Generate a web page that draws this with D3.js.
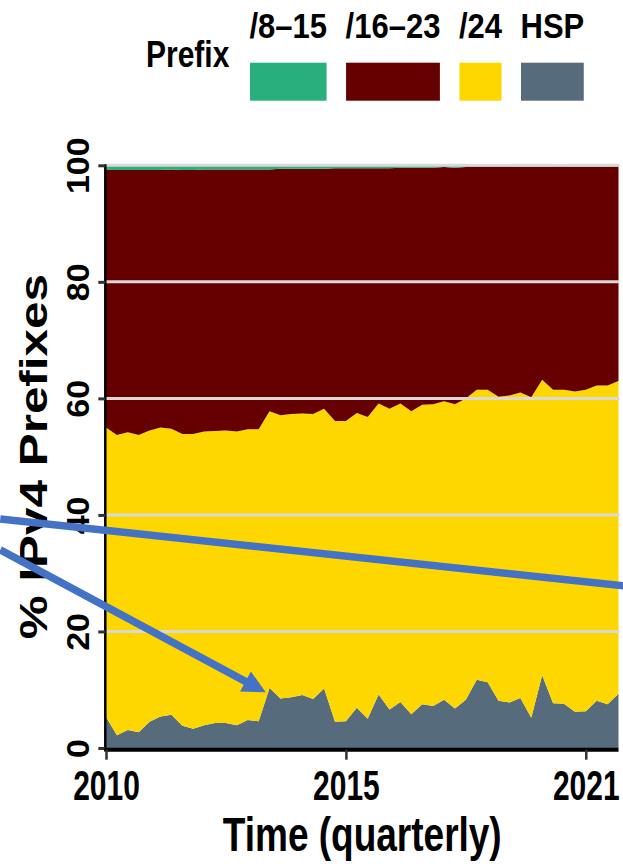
<!DOCTYPE html>
<html><head><meta charset="utf-8">
<script src="https://cdn.jsdelivr.net/npm/d3@7"></script>
<style>
html,body{margin:0;padding:0;background:#fff;}
svg{display:block;}
text{font-family:"Liberation Sans",Arial,Helvetica,sans-serif;font-weight:bold;fill:#000;}
</style></head><body>
<svg id="chart" width="623" height="864"></svg>
<script>
// ---------------- data ----------------
const quarters = [
 "2010Q1","2010Q2","2010Q3","2010Q4","2011Q1","2011Q2","2011Q3","2011Q4",
 "2012Q1","2012Q2","2012Q3","2012Q4","2013Q1","2013Q2","2013Q3","2013Q4",
 "2014Q1","2014Q2","2014Q3","2014Q4","2015Q1","2015Q2","2015Q3","2015Q4",
 "2016Q1","2016Q2","2016Q3","2016Q4","2017Q1","2017Q2","2017Q3","2017Q4",
 "2018Q1","2018Q2","2018Q3","2018Q4","2019Q1","2019Q2","2019Q3","2019Q4",
 "2020Q1","2020Q2","2020Q3","2020Q4","2021Q1","2021Q2","2021Q3","2021Q4"];
const hsp = [5.3,2.2,3.1,2.7,4.5,5.4,5.7,3.8,3.3,3.9,4.3,4.3,3.9,4.8,4.6,10.3,
 8.5,8.7,9.1,8.4,10.2,4.5,4.6,6.9,5.0,9.2,6.6,7.9,5.8,7.5,7.2,8.3,
 6.8,8.3,11.7,11.3,8.1,7.8,8.6,5.2,12.5,7.7,7.6,6.2,6.3,8.1,7.5,9.3];
const p24 = [49.7,51.5,51.1,51.0,50.0,49.6,49.1,50.1,50.6,50.4,50.1,50.2,50.4,49.9,50.1,47.5,
 48.6,48.6,48.3,48.9,48.0,51.6,51.5,50.6,51.8,49.9,51.6,51.2,52.0,51.4,51.8,51.2,
 52.2,51.7,49.8,50.2,52.2,52.7,52.4,55.0,50.7,53.8,53.9,55.0,55.2,54.1,54.7,53.7];
const p16_23 = [44.2,45.5,45.0,45.5,44.7,44.2,44.5,45.3,45.3,45.0,44.9,44.8,45.0,44.6,44.6,41.5,
 42.3,42.1,42.0,42.1,41.2,43.4,43.4,42.0,42.7,40.4,41.3,40.5,41.8,40.7,40.6,40.2,
 40.6,39.7,38.2,38.2,39.4,39.2,38.8,39.5,36.6,38.2,38.2,38.6,38.3,37.6,37.6,36.8];
const p8_15 = [0.8,0.8,0.8,0.8,0.8,0.8,0.75,0.75,0.75,0.7,0.7,0.7,0.7,0.65,0.65,0.65,
 0.6,0.6,0.6,0.6,0.55,0.55,0.5,0.5,0.5,0.45,0.45,0.4,0.4,0.4,0.35,0.35,
 0.35,0.3,0.3,0.3,0.3,0.3,0.25,0.25,0.25,0.25,0.25,0.25,0.2,0.2,0.2,0.2];

const seriesKeys = ["hsp","p24","p16_23","p8_15"];           // stack order, bottom -> top
const legendKeys = ["p8_15","p16_23","p24","hsp"];
const legendLabels = ["/8\u201315","/16\u201323","/24","HSP"];
const yTickValues = [0,20,40,60,80,100];
const xTickIndex = [0,22,44];
const xTickLabels = ["2010","2015","2021"];
// annotation arrows (in data units: quarter index, percent)
const annoLine = [[-9.7,39.3],[47.6,27.8]];
const annoArrow = [[-9.7,34.0],[14.65,9.55]];

// ---------------- styles ----------------
const colors = {p8_15:"#29af7e", p16_23:"#660000", p24:"#ffd700", hsp:"#566b7b"};
const gridColor = "#d9d9d9", blue = "#4472c4";

const svg = d3.select("#chart");
const x = d3.scaleLinear().domain([0, quarters.length-1]).range([106, 618.5]);
const y = d3.scaleLinear().domain([0, 100]).range([748, 165.3]);
const series = {hsp, p24, p16_23, p8_15};
const rows = quarters.map((q,i)=>{const r={q,i}; seriesKeys.forEach(k=>r[k]=series[k][i]); return r;});
const stacked = d3.stack().keys(seriesKeys)(rows);

const area = d3.area().x(d=>x(d.data.i)).y0(d=>y(d[0])).y1(d=>y(d[1]));
svg.append("g").selectAll("path").data(stacked).join("path")
  .attr("d", area).attr("fill", d=>colors[d.key]);

// gridlines (on top of areas)
svg.append("g").selectAll("line").data(yTickValues.filter(v=>v>0)).join("line")
  .attr("x1", x.range()[0]).attr("x2", x.range()[1]+1)
  .attr("y1", d=>y(d)).attr("y2", d=>y(d))
  .attr("stroke", gridColor).attr("stroke-width", 3);

// y axis
const yAxisX = 105.3;
const gy = svg.append("g").attr("transform", `translate(${yAxisX},0)`)
  .call(d3.axisLeft(y).tickValues(yTickValues).tickSize(7).tickSizeOuter(0).tickFormat(""));
gy.select(".domain").attr("stroke","#000").attr("stroke-width",2.5).attr("d", `M0,${y(100)-1}V${751}`);
gy.selectAll(".tick line").attr("stroke","#333").attr("stroke-width",3);
gy.selectAll(".tick").append("text")
  .attr("transform", "translate(-16,0) scale(1,1.06) rotate(-90)")
  .attr("text-anchor","middle").attr("font-size",32).attr("dy",0)
  .text(d=>d);

// x axis
const gx = svg.append("g").attr("transform", "translate(0,749.7)")
  .call(d3.axisBottom(x).tickValues(xTickIndex).tickSize(10).tickSizeOuter(0)
        .tickFormat((d,i)=>xTickLabels[i]));
gx.select(".domain").attr("stroke","#000").attr("stroke-width",4).attr("d", `M${yAxisX-1},0H${x.range()[1]}`);
gx.selectAll(".tick line").attr("stroke","#333").attr("stroke-width",2.5);
gx.selectAll(".tick text").attr("y",0).attr("dy",0).attr("font-size",30)
  .attr("transform","translate(0,50) scale(1,1.4)").attr("fill","#000");

// axis titles
svg.append("text").attr("text-anchor","middle").attr("font-size",37)
  .attr("transform",`translate(${(x.range()[0]+x.range()[1])/2},851) scale(1,1.28)`)
  .text("Time (quarterly)");
svg.append("text").attr("text-anchor","middle").attr("font-size",38)
  .attr("transform",`translate(46.7,${(y(0)+y(100))/2}) scale(1,1.3) rotate(-90)`)
  .text("% IPv4 Prefixes");

// legend
svg.append("text").attr("font-size",30)
  .attr("transform","translate(146,66.7) scale(1,1.22)").text("Prefix");
const lg = svg.append("g");
let lx = 250;
legendKeys.forEach((k,i)=>{
  const t = lg.append("text").attr("font-size",31).attr("text-anchor","middle").text(legendLabels[i]);
  const w = t.node().getComputedTextLength();
  const rw = w - 1;
  t.attr("transform",`translate(${lx+rw/2},37.8) scale(1,1.14)`);
  lg.append("rect").attr("x",lx).attr("y",62.7).attr("width",rw).attr("height",38).attr("fill",colors[k]);
  lx += rw + 19.5;
});

// annotations
const P = p=>[x(p[0]), y(p[1])];
const a1 = annoLine.map(P);
svg.append("line").attr("x1",a1[0][0]).attr("y1",a1[0][1]).attr("x2",a1[1][0]).attr("y2",a1[1][1])
  .attr("stroke",blue).attr("stroke-width",7.5);
const [s,t] = annoArrow.map(P);
const dx=t[0]-s[0], dy=t[1]-s[1], L=Math.hypot(dx,dy), ux=dx/L, uy=dy/L;
const hl=23, hw=11.4;
const m=[t[0]-hl*ux, t[1]-hl*uy];
svg.append("line").attr("x1",s[0]).attr("y1",s[1]).attr("x2",m[0]+2*ux).attr("y2",m[1]+2*uy)
  .attr("stroke",blue).attr("stroke-width",7.5);
svg.append("path").attr("fill",blue)
  .attr("d",`M${t[0]},${t[1]}L${m[0]-hw*uy},${m[1]+hw*ux}L${m[0]+hw*uy},${m[1]-hw*ux}Z`);
</script>
</body></html>
